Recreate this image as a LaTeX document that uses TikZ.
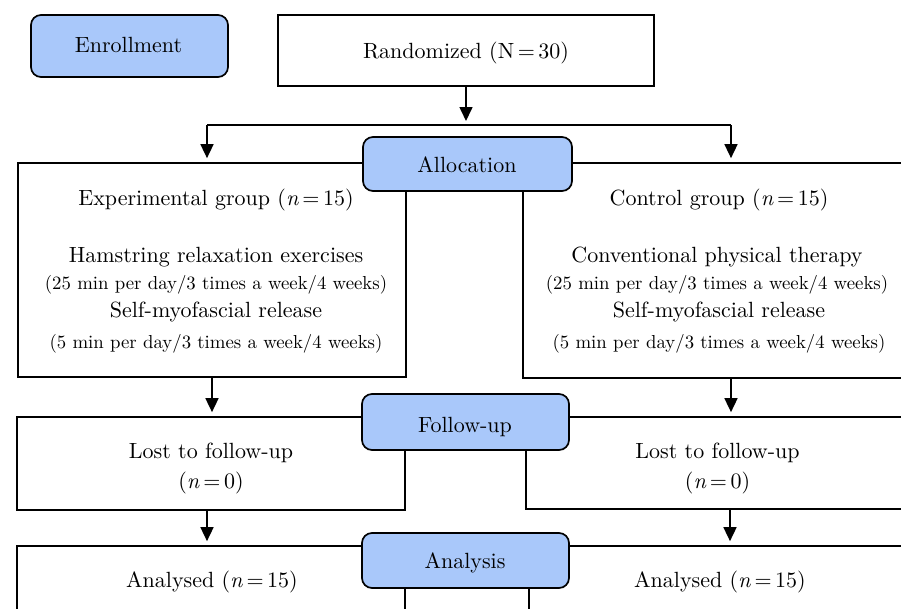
\documentclass[tikz,border=0pt]{standalone}
\usepackage{fontspec}
\setmainfont{lmroman10-regular.otf}[ItalicFont=lmroman10-italic.otf, BoldFont=lmroman10-bold.otf]
\usetikzlibrary{arrows.meta}
\definecolor{stageblue}{RGB}{169,200,250}
\newcommand{\fzmain}{\fontsize{22}{26}\selectfont}
\newcommand{\fzsmall}{\fontsize{18.8}{22}\selectfont}
\newcommand{\eqsign}{\kern3.5pt=\kern3.5pt}
\tikzset{
  plainbox/.style={draw=black, fill=white, line width=1.7pt, inner sep=0pt},
  stagebox/.style={draw=black, fill=stageblue, rounded corners=10pt, line width=1.7pt, inner sep=0pt},
  lbl/.style={inner sep=0pt, anchor=base, font=\fzmain},
  smalllbl/.style={inner sep=0pt, anchor=base, font=\fzsmall},
  conn/.style={line width=1.6pt},
  arr/.style={line width=1.6pt, -{Triangle[length=14pt,width=13pt]}, shorten >=4pt},
}
\begin{document}
\begin{tikzpicture}[x=1pt,y=-1pt]
\useasboundingbox (0,0) rectangle (901,608);
\clip (0,0) rectangle (901,608);
% white boxes
\node[plainbox, minimum width=376pt, minimum height=71pt] (rand) at (466,50.5) {};
\node[plainbox, minimum width=388pt, minimum height=214pt] (exp) at (212,270) {};
\node[plainbox, minimum width=394pt, minimum height=215pt] (ctl) at (720,270.5) {};
\node[plainbox, minimum width=388pt, minimum height=93pt] (lostL) at (211,463.5) {};
\node[plainbox, minimum width=391pt, minimum height=92pt] (lostR) at (721.5,463) {};
\node[plainbox, minimum width=388pt, minimum height=114pt] (anaL) at (211,603) {};
\node[plainbox, minimum width=388pt, minimum height=114pt] (anaR) at (723,603) {};
% stage boxes
\node[stagebox, minimum width=197pt, minimum height=62pt] (enr) at (129.5,46) {};
\node[stagebox, minimum width=209pt, minimum height=54pt] (alloc) at (467.5,164) {};
\node[stagebox, minimum width=207pt, minimum height=56pt] (follow) at (465.5,422) {};
\node[stagebox, minimum width=207pt, minimum height=55pt] (analysis) at (465.5,560.5) {};
% connectors
\coordinate (split) at (466,125);
\coordinate (brL) at (207,125);
\coordinate (brR) at (731,125);
\draw[arr] (rand.south) -- (split);
\draw[conn] (brL) -- (brR);
\draw[arr] (brL) -- (brL |- exp.north);
\draw[arr] (brR) -- (brR |- ctl.north);
\draw[arr] (exp.south) -- (exp.south |- lostL.north);
\draw[arr] ([xshift=11pt]ctl.south) -- ([xshift=9.5pt]lostR.north);
\draw[arr] ([xshift=-4pt]lostL.south) -- ([xshift=-4pt]anaL.north);
\draw[arr] ([xshift=8.5pt]lostR.south) -- ([xshift=7pt]anaR.north);
% texts
\node[lbl] (tEnr) at (128.5,52) {Enrollment};
\node[lbl] (tRand) at (466,58) {Randomized (N\eqsign 30)};
\node[lbl] (tAlloc) at (467,172) {Allocation};
\node[lbl] (tFollow) at (465,432) {Follow-up};
\node[lbl] (tAnalysis) at (465,568) {Analysis};
\node[lbl] (tExp) at (216,205) {Experimental group (\textit{n}\eqsign 15)};
\node[lbl] (tHam) at (216,262) {Hamstring relaxation exercises};
\node[smalllbl] (tExpA) at (216,289) {(25 min per day/3 times a week/4 weeks)};
\node[lbl] (tExpS) at (216,317) {Self-myofascial release};
\node[smalllbl] (tExpB) at (216,348) {(5 min per day/3 times a week/4 weeks)};
\node[lbl] (tCtl) at (719,205) {Control group (\textit{n}\eqsign 15)};
\node[lbl] (tConv) at (717,262) {Conventional physical therapy};
\node[smalllbl] (tCtlA) at (717,289) {(25 min per day/3 times a week/4 weeks)};
\node[lbl] (tCtlS) at (719,317) {Self-myofascial release};
\node[smalllbl] (tCtlB) at (719,348) {(5 min per day/3 times a week/4 weeks)};
\node[lbl] (tLostL) at (211,458) {Lost to follow-up};
\node[lbl] (tLostLn) at (211,488) {(\textit{n}\eqsign 0)};
\node[lbl] (tLostR) at (717.5,458) {Lost to follow-up};
\node[lbl] (tLostRn) at (717.5,488) {(\textit{n}\eqsign 0)};
\node[lbl] (tAnaL) at (212,587) {Analysed (\textit{n}\eqsign 15)};
\node[lbl] (tAnaR) at (720,587) {Analysed (\textit{n}\eqsign 15)};
\end{tikzpicture}
\end{document}
